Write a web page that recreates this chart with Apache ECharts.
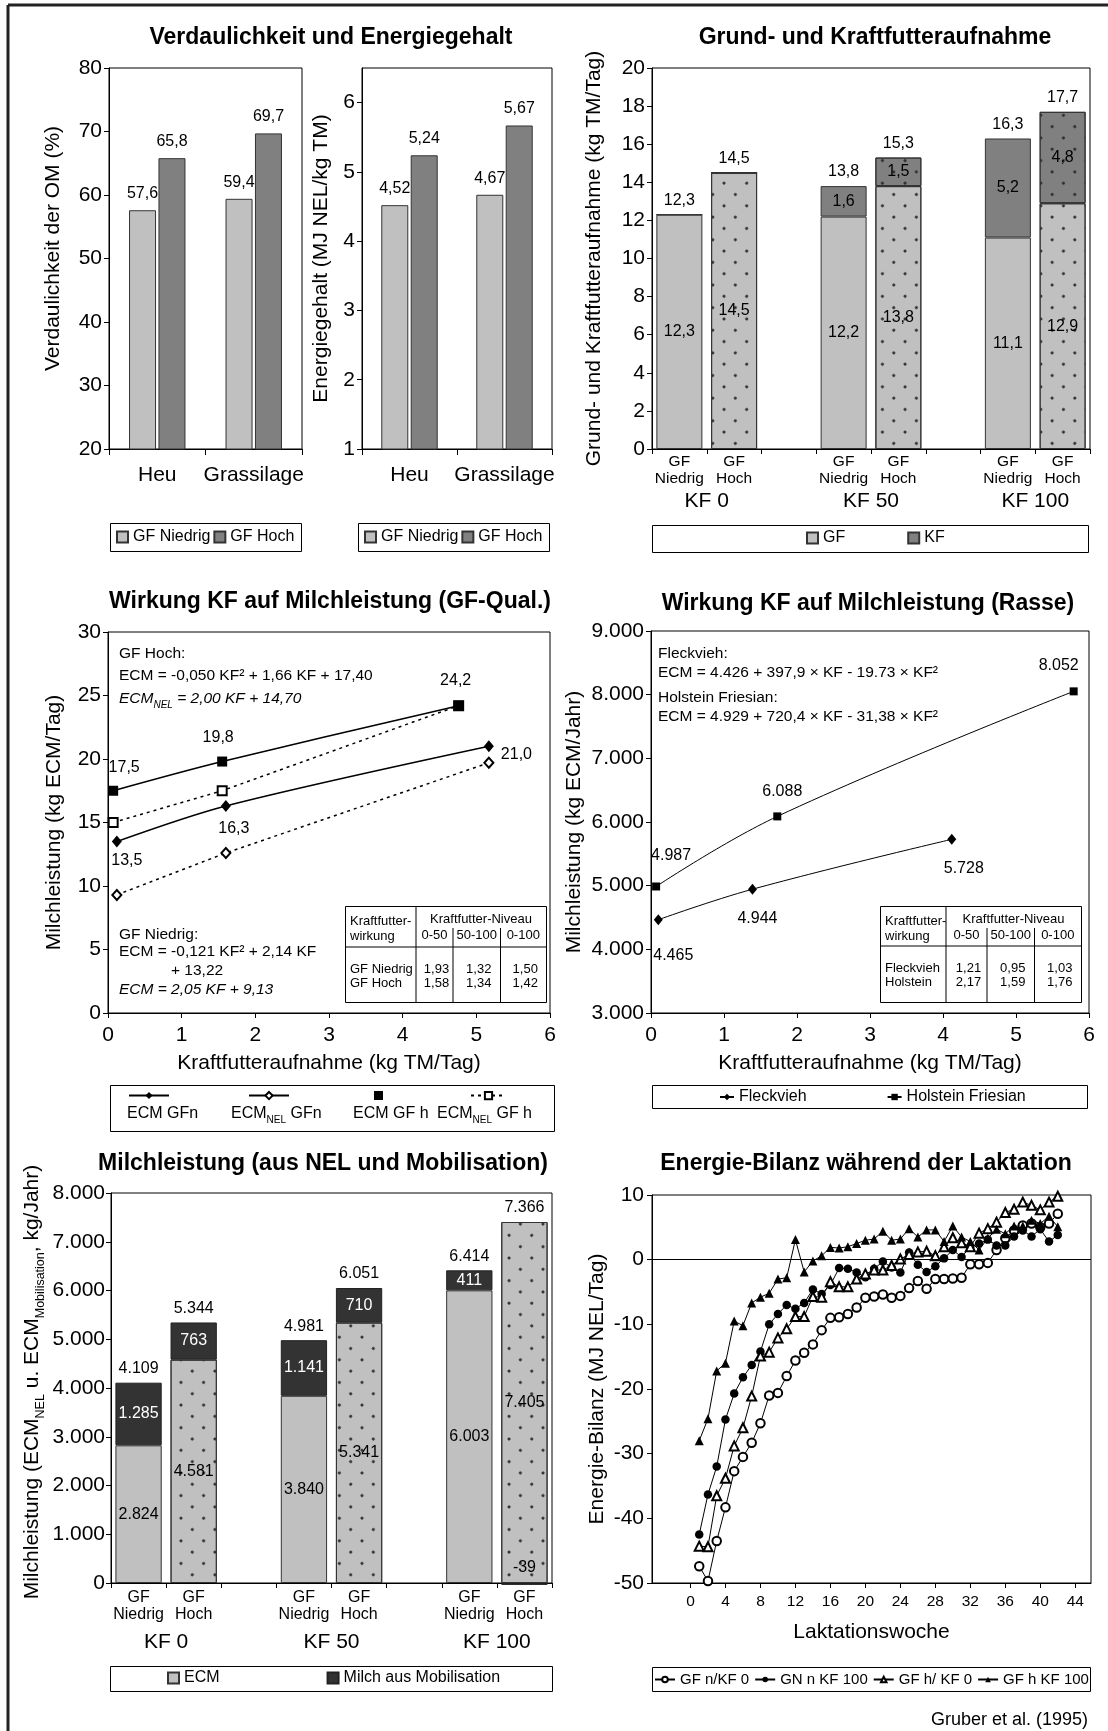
<!DOCTYPE html>
<html><head><meta charset="utf-8">
<script src="https://cdn.jsdelivr.net/npm/echarts@6/dist/echarts.min.js"></script>
<style>html,body{margin:0;padding:0;background:#fff}#c{width:1108px;height:1731px}</style>
</head><body><div id="c"></div>
<script>
// ---------------- DATA ----------------
const feedCats = ['Heu', 'Grassilage'];
const verdNiedrig = [57.6, 59.4];
const verdHoch = [65.8, 69.7];
const energieNiedrig = [4.52, 4.67];
const energieHoch = [5.24, 5.67];
const energieTicks = [1, 2, 3, 4, 5, 6];

const slotCats = ['GF\nNiedrig', 'GF\nHoch', '', 'GF\nNiedrig', 'GF\nHoch', '', 'GF\nNiedrig', 'GF\nHoch'];
const groupNames = ['KF 0', 'KF 50', 'KF 100'];
const gfAufnahme = [12.3, 14.5, '-', 12.2, 13.8, '-', 11.1, 12.9];
const kfAufnahme = [0, 0, '-', 1.6, 1.5, '-', 5.2, 4.8];
const gesAufnahme = [12.3, 14.5, '-', 13.8, 15.3, '-', 16.3, 17.7];

const kfGFn = [0.12, 1.6, 5.17];
const ecmGFn = [13.5, 16.3, 21.0];
const ecmNelGFn = [9.3, 12.6, 19.7];
const kfGFh = [0.07, 1.55, 4.76];
const ecmGFh = [17.5, 19.8, 24.2];
const ecmNelGFh = [15.0, 17.5, 24.2];
const tableCols = ['0-50', '50-100', '0-100'];
const tableGFRows = ['GF Niedrig', 'GF Hoch'];
const tableGFVals = [[1.93, 1.32, 1.50], [1.58, 1.34, 1.42]];

const kfFleck = [0.1, 1.39, 4.12];
const ecmFleck = [4465, 4944, 5728];
const kfHol = [0.07, 1.73, 5.79];
const ecmHol = [4987, 6088, 8052];
const tableRasseRows = ['Fleckvieh', 'Holstein'];
const tableRasseVals = [[1.21, 0.95, 1.03], [2.17, 1.59, 1.76]];

const ecmNel = [2824, 4581, '-', 3840, 5341, '-', 6003, 7405];
const ecmMobil = [1285, 763, '-', 1141, 710, '-', 411, -39];
const milchGesamt = [4109, 5344, '-', 4981, 6051, '-', 6414, 7366];

const weeks = [1,2,3,4,5,6,7,8,9,10,11,12,13,14,15,16,17,18,19,20,21,22,23,24,25,26,27,28,29,30,31,32,33,34,35,36,37,38,39,40,41,42];
const weekTicks = [0, 4, 8, 12, 16, 20, 24, 28, 32, 36, 40, 44];
const ebGFnKF0 = [-47.4,-49.7,-43.5,-38.3,-32.7,-30.5,-28.3,-25.3,-21.0,-20.6,-18.0,-15.6,-14.4,-13.1,-10.9,-9.0,-8.9,-8.4,-7.4,-5.9,-5.7,-5.4,-5.9,-5.6,-4.4,-3.3,-4.5,-3.0,-3.0,-2.9,-2.8,-0.7,-0.7,-0.5,1.5,3.3,4.5,5.3,5.6,5.0,5.6,7.1];
const ebGNnKF100 = [-42.5,-36.3,-32.0,-24.7,-20.7,-18.2,-16.3,-14.2,-10.0,-8.4,-7.0,-7.6,-6.7,-4.6,-5.3,-3.9,-1.3,-1.4,-2.0,-2.7,-1.4,-0.3,-1.2,-2.0,1.1,-0.8,-1.9,-1.0,0.2,1.5,0.4,2.0,2.5,3.1,2.2,2.2,3.6,4.5,3.6,4.7,2.8,3.8];
const ebGFhKF0 = [-44.3,-44.4,-36.5,-33.8,-28.8,-26.0,-21.1,-14.9,-14.3,-12.1,-10.7,-8.8,-8.8,-5.7,-5.8,-3.4,-4.2,-4.2,-3.0,-2.2,-1.6,-1.6,-0.9,0.1,0.8,1.2,1.3,0.6,2.0,3.4,2.6,2.0,4.1,4.8,5.8,7.3,7.8,8.9,8.4,7.7,8.9,9.8];
const ebGFhKF100 = [-28.0,-24.6,-17.2,-16.0,-9.5,-10.2,-6.7,-5.8,-5.2,-3.0,-2.8,3.1,-1.9,-0.2,0.6,1.9,1.8,2.0,2.5,3.0,3.2,4.4,3.0,3.2,4.8,3.5,4.6,4.6,2.8,5.2,3.5,2.8,1.5,3.3,4.7,4.0,5.2,5.2,6.1,5.6,6.7,5.1];

// ---------------- HELPERS ----------------
const FONT = '"Liberation Sans", Arial, Helvetica, sans-serif';
const de1 = v => v.toFixed(1).replace('.', ',');
const de2 = v => v.toFixed(2).replace('.', ',');
const deK = v => (v < 0 ? '-' : '') + Math.round(Math.abs(v)).toString().replace(/\B(?=(\d{3})+(?!\d))/g, '.');
function merge(a, b) {
  const o = Object.assign({}, a);
  for (const k in b) {
    const bv = b[k], av = a[k];
    if (bv && typeof bv === 'object' && !Array.isArray(bv) && av && typeof av === 'object' && !Array.isArray(av)) o[k] = merge(av, bv);
    else o[k] = bv;
  }
  return o;
}
const isHoch = i => slotCats[i].indexOf('Hoch') >= 0;
const groupCenters = slotCats.map((c, i) => c.indexOf('Niedrig') >= 0 ? i + 1 : null).filter(v => v !== null);
const DOTS = { symbol: 'circle', symbolSize: 1, color: '#2a2a2a', dashArrayX: [2.2, 12.6], dashArrayY: [2.2, 12.6], rotation: Math.PI / 4 };
const LIGHT = '#c0c0c0', MID = '#808080', DARK = '#333333';

const baseAxis = {
  nameMoveOverlap: false,
  axisLine: { show: true, onZero: false, lineStyle: { color: '#000', width: 1 } },
  axisTick: { show: true, length: 5, inside: false, lineStyle: { color: '#000', width: 1 } },
  splitLine: { show: false },
  axisLabel: { fontFamily: FONT, fontSize: 21, color: '#000' },
  nameTextStyle: { fontFamily: FONT, fontSize: 21, color: '#000' }
};
const ax = o => merge(baseAxis, o);
const lblStyle = { fontFamily: FONT, fontSize: 16, color: '#000' };
const subRich = {
  m: { fontFamily: FONT, fontSize: 16, lineHeight: 16, verticalAlign: 'top', color: '#000' },
  s: { fontFamily: FONT, fontSize: 10, lineHeight: 10, verticalAlign: 'top', padding: [9, 0, 0, 0], color: '#000' }
};
const nelFmt = name => name.indexOf('ECM_NEL') === 0 ? '{m|ECM}{s|NEL}{m|' + name.slice(7) + '}' : '{m|' + name + '}';

// ---------------- GRIDS ----------------
const grids = [
  { left: 109, top: 68, width: 193, height: 381 },
  { left: 362, top: 68, width: 190, height: 381 },
  { left: 652, top: 68, width: 438, height: 381 },
  { left: 108, top: 632, width: 442, height: 381 },
  { left: 651, top: 631, width: 438, height: 382 },
  { left: 111, top: 1193, width: 441, height: 390 },
  { left: 652, top: 1195, width: 439, height: 388 }
].map(g => Object.assign(g, { show: true, borderColor: '#000', borderWidth: 1, backgroundColor: 'transparent', containLabel: false, outerBoundsMode: 'none' }));

const xAxes = [
  ax({ type: 'category', gridIndex: 0, position: 'bottom', data: feedCats, axisLabel: { margin: 16, interval: 0 }, axisTick: { length: 6 } }),
  ax({ type: 'category', gridIndex: 1, position: 'bottom', data: feedCats, axisLabel: { margin: 16, interval: 0 }, axisTick: { length: 6 } }),
  ax({ type: 'category', gridIndex: 2, position: 'bottom', data: slotCats, axisLabel: { fontSize: 15.5, lineHeight: 17, margin: 4, interval: 0 }, axisTick: { interval: 0 } }),
  ax({ type: 'value', gridIndex: 2, position: 'bottom', offset: 0, min: 0, max: slotCats.length, axisLine: { show: false }, axisTick: { show: false },
       axisLabel: { customValues: groupCenters, margin: 42, formatter: v => groupNames[groupCenters.indexOf(v)] || '' } }),
  ax({ type: 'value', gridIndex: 3, position: 'bottom', min: 0, max: 6, interval: 1, name: 'Kraftfutteraufnahme (kg TM/Tag)', nameLocation: 'middle', nameGap: 40, axisLabel: { margin: 12 } }),
  ax({ type: 'value', gridIndex: 4, position: 'bottom', min: 0, max: 6, interval: 1, name: 'Kraftfutteraufnahme (kg TM/Tag)', nameLocation: 'middle', nameGap: 40, axisLabel: { margin: 12 } }),
  ax({ type: 'category', gridIndex: 5, position: 'bottom', data: slotCats, axisLabel: { fontSize: 16, lineHeight: 17, margin: 6, interval: 0 }, axisTick: { interval: 0 } }),
  ax({ type: 'value', gridIndex: 5, position: 'bottom', offset: 0, min: 0, max: slotCats.length, axisLine: { show: false }, axisTick: { show: false },
       axisLabel: { customValues: groupCenters, margin: 49, formatter: v => groupNames[groupCenters.indexOf(v)] || '' } }),
  ax({ type: 'value', gridIndex: 6, position: 'bottom', min: -4.4, max: 45.8, name: 'Laktationswoche', nameLocation: 'middle', nameGap: 39,
       axisLabel: { customValues: weekTicks, fontSize: 15.5, margin: 11 }, axisTick: { customValues: weekTicks } })
];

const yAxes = [
  ax({ type: 'value', gridIndex: 0, min: 20, max: 80, interval: 10, name: 'Verdaulichkeit der OM (%)', nameLocation: 'middle', nameGap: 45, nameTextStyle: { padding: [0, 0, 0, 20] }, axisLabel: { margin: 7 } }),
  ax({ type: 'value', gridIndex: 1, min: 1, max: 6.5, name: 'Energiegehalt (MJ NEL/kg TM)', nameLocation: 'middle', nameGap: 30, axisLabel: { margin: 7, customValues: energieTicks }, axisTick: { customValues: energieTicks } }),
  ax({ type: 'value', gridIndex: 2, min: 0, max: 20, interval: 2, name: 'Grund- und Kraftfutteraufnahme (kg TM/Tag)', nameLocation: 'middle', nameGap: 47, axisLabel: { margin: 7 } }),
  ax({ type: 'value', gridIndex: 3, min: 0, max: 30, interval: 5, name: 'Milchleistung (kg ECM/Tag)', nameLocation: 'middle', nameGap: 43, axisLabel: { margin: 7 } }),
  ax({ type: 'value', gridIndex: 4, min: 3000, max: 9000, interval: 1000, name: 'Milchleistung (kg ECM/Jahr)', nameLocation: 'middle', nameGap: 66, axisLabel: { margin: 7, formatter: deK } }),
  ax({ type: 'value', gridIndex: 5, min: 0, max: 8000, interval: 1000,
       name: '{n|Milchleistung (ECM}{s|NEL}{n| u. ECM}{s|Mobilisation}{n|, kg/Jahr)}', nameLocation: 'middle', nameGap: 68,
       nameTextStyle: { padding: [0, 0, 0, 12], rich: {
         n: { fontFamily: FONT, fontSize: 21, lineHeight: 21, verticalAlign: 'top', color: '#000' },
         s: { fontFamily: FONT, fontSize: 12.5, lineHeight: 12, verticalAlign: 'top', padding: [12, 0, 0, 0], color: '#000' } } },
       axisLabel: { margin: 6, formatter: deK } }),
  ax({ type: 'value', gridIndex: 6, min: -50, max: 10, interval: 10, name: 'Energie-Bilanz (MJ NEL/Tag)', nameLocation: 'middle', nameGap: 44, axisLabel: { margin: 8 } })
];

// ---------------- SERIES ----------------
const series = [];
// A / B
[[0, verdNiedrig, verdHoch, de1], [1, energieNiedrig, energieHoch, de2]].forEach(([gi, lo, hi, f]) => {
  [['GF Niedrig', lo, LIGHT], ['GF Hoch', hi, MID]].forEach(([nm, arr, col]) => {
    series.push({ type: 'bar', name: nm, xAxisIndex: gi, yAxisIndex: gi, data: arr, barWidth: 27, barGap: '9%',
      itemStyle: { color: col, borderColor: '#333', borderWidth: 1 },
      label: Object.assign({ show: true, position: 'top', distance: 8.5, formatter: p => f(p.value) }, lblStyle) });
  });
});
// C
const withDots = (arr, dotted) => arr.map((v, i) => (dotted && isHoch(i) && typeof v === 'number') ? { value: v, itemStyle: { decal: DOTS } } : v);
series.push({ type: 'bar', name: 'GF', xAxisIndex: 2, yAxisIndex: 2, stack: 'aufn', barWidth: '84%', data: withDots(gfAufnahme, true),
  itemStyle: { color: LIGHT, borderColor: '#333', borderWidth: 1 },
  label: Object.assign({ show: true, position: 'inside', formatter: p => (typeof p.value === 'number' && p.value) ? de1(p.value) : '' }, lblStyle) });
series.push({ type: 'bar', name: 'KF', xAxisIndex: 2, yAxisIndex: 2, stack: 'aufn', barWidth: '84%', data: withDots(kfAufnahme, true),
  itemStyle: { color: MID, borderColor: '#333', borderWidth: 1 },
  label: Object.assign({ show: true, position: 'inside', formatter: p => (typeof p.value === 'number' && p.value) ? de1(p.value) : '' }, lblStyle) });
series.push({ type: 'scatter', name: 'sumC', xAxisIndex: 2, yAxisIndex: 2, silent: true, symbol: 'rect', symbolSize: 0.1,
  itemStyle: { color: '#000', opacity: 1 },
  data: gesAufnahme.map((v, i) => [i, v]).filter(d => typeof d[1] === 'number'),
  label: Object.assign({ show: true, position: 'top', distance: 6, opacity: 1, formatter: p => de1(p.value[1]) }, lblStyle), z: 5 });

// D
const gfnLbl = [{ position: 'bottom', distance: 5, offset: [10, 0] }, { position: 'bottom', distance: 9, offset: [8, 0] }, { position: 'right', distance: 7, offset: [0, 8] }];
const gfhLbl = [{ position: 'top', distance: 10, offset: [11, 0] }, { position: 'top', distance: 11, offset: [-4, 0] }, { position: 'top', distance: 12, offset: [-3, 0] }];
series.push({ type: 'line', name: 'ECM_NEL GFn', xAxisIndex: 4, yAxisIndex: 3, data: kfGFn.map((x, i) => [x, ecmNelGFn[i]]),
  symbol: 'emptyDiamond', symbolSize: [9, 10], lineStyle: { color: '#000', width: 1.5, type: [3, 4] }, itemStyle: { color: '#000', borderWidth: 1 }, z: 3 });
series.push({ type: 'line', name: 'ECM_NEL GF h', xAxisIndex: 4, yAxisIndex: 3, data: kfGFh.map((x, i) => [x, ecmNelGFh[i]]),
  symbol: 'emptyRect', symbolSize: 9, lineStyle: { color: '#000', width: 1.5, type: [3, 4] }, itemStyle: { color: '#000', borderWidth: 1 }, z: 3 });
series.push({ type: 'line', name: 'ECM GFn', xAxisIndex: 4, yAxisIndex: 3, smooth: 0.3,
  data: kfGFn.map((x, i) => ({ value: [x, ecmGFn[i]], label: gfnLbl[i] })),
  symbol: 'diamond', symbolSize: [10, 12], lineStyle: { color: '#000', width: 1.5 }, itemStyle: { color: '#000' },
  label: Object.assign({ show: true, formatter: p => de1(p.value[1]) }, lblStyle), z: 4 });
series.push({ type: 'line', name: 'ECM GF h', xAxisIndex: 4, yAxisIndex: 3, smooth: 0.3,
  data: kfGFh.map((x, i) => ({ value: [x, ecmGFh[i]], label: gfhLbl[i] })),
  symbol: 'rect', symbolSize: 10, lineStyle: { color: '#000', width: 1.5 }, itemStyle: { color: '#000' },
  label: Object.assign({ show: true, formatter: p => de1(p.value[1]) }, lblStyle), z: 4 });

// E
const fleckLbl = [{ position: 'bottom', distance: 22, offset: [15, 0] }, { position: 'bottom', distance: 16, offset: [5, 0] }, { position: 'bottom', distance: 16, offset: [12, 0] }];
const holLbl = [{ position: 'top', distance: 19, offset: [15, 0] }, { position: 'top', distance: 13, offset: [5, 0] }, { position: 'top', distance: 14, offset: [-15, 0] }];
series.push({ type: 'line', name: 'Fleckvieh', xAxisIndex: 5, yAxisIndex: 4, smooth: 0.4,
  data: kfFleck.map((x, i) => ({ value: [x, ecmFleck[i]], label: fleckLbl[i] })),
  symbol: 'diamond', symbolSize: [9, 11], lineStyle: { color: '#000', width: 1 }, itemStyle: { color: '#000' },
  label: Object.assign({ show: true, formatter: p => deK(p.value[1]) }, lblStyle) });
series.push({ type: 'line', name: 'Holstein Friesian', xAxisIndex: 5, yAxisIndex: 4, smooth: 0.4,
  data: kfHol.map((x, i) => ({ value: [x, ecmHol[i]], label: holLbl[i] })),
  symbol: 'rect', symbolSize: 8, lineStyle: { color: '#000', width: 1 }, itemStyle: { color: '#000' },
  label: Object.assign({ show: true, formatter: p => deK(p.value[1]) }, lblStyle) });

// F
series.push({ type: 'bar', name: 'ECM', xAxisIndex: 6, yAxisIndex: 5, stack: 'milch', barWidth: '84%', data: withDots(ecmNel, true),
  itemStyle: { color: LIGHT, borderColor: '#333', borderWidth: 1 },
  label: Object.assign({ show: true, position: 'inside', formatter: p => typeof p.value === 'number' ? deK(p.value) : '' }, lblStyle) });
series.push({ type: 'bar', name: 'Milch aus Mobilisation', xAxisIndex: 6, yAxisIndex: 5, stack: 'milch', barWidth: '84%', clip: false,
  data: ecmMobil.map(v => (typeof v === 'number' && v < 0) ? { value: v, label: { position: 'top', distance: 7, color: '#000' } } : v),
  itemStyle: { color: DARK, borderColor: '#222', borderWidth: 1 },
  label: Object.assign({}, lblStyle, { show: true, position: 'inside', color: '#fff', formatter: p => typeof p.value === 'number' ? deK(p.value) : '' }) });
series.push({ type: 'scatter', name: 'sumF', xAxisIndex: 6, yAxisIndex: 5, silent: true, symbol: 'rect', symbolSize: 0.1,
  itemStyle: { color: '#000', opacity: 1 },
  data: milchGesamt.map((t, i) => typeof t === 'number' ? { value: [i, ecmNel[i] + Math.max(ecmMobil[i], 0)], total: t } : null).filter(d => d),
  label: Object.assign({ show: true, position: 'top', distance: 6, opacity: 1, formatter: p => deK(p.data.total) }, lblStyle), z: 5 });

// G
[['GF n/KF 0', ebGFnKF0, 'emptyCircle', 8.5], ['GN n KF 100', ebGNnKF100, 'circle', 8.5], ['GF h/ KF 0', ebGFhKF0, 'emptyTriangle', 9], ['GF h KF 100', ebGFhKF100, 'triangle', 9]]
  .forEach(([nm, arr, sym, sz], k) => {
    const s = { type: 'line', name: nm, xAxisIndex: 8, yAxisIndex: 6, data: weeks.map((w, i) => [w, arr[i]]),
      symbol: sym, symbolSize: sz, lineStyle: { color: '#000', width: 1 }, itemStyle: { color: '#000', borderWidth: 1 } };
    if (k === 0) s.markLine = { silent: true, symbol: 'none', label: { show: false }, lineStyle: { color: '#000', width: 1, type: 'solid' }, data: [{ yAxis: 0 }] };
    series.push(s);
  });

// ---------------- LEGENDS ----------------
const legBase = { padding: 0, selectedMode: false, textStyle: { fontFamily: FONT, fontSize: 16, color: '#000' } };
const leg = o => merge(legBase, o);
const legends = [
  leg({ data: ['GF Niedrig', 'GF Hoch'], left: 116, top: 529, icon: 'rect', itemWidth: 11, itemHeight: 11, textGap: 7, itemGap: 3 }),
  leg({ data: ['GF Niedrig', 'GF Hoch'], left: 364, top: 529, icon: 'rect', itemWidth: 11, itemHeight: 11, textGap: 7, itemGap: 3 }),
  leg({ data: ['GF', 'KF'], left: 806, top: 530, icon: 'rect', itemWidth: 11, itemHeight: 11, textGap: 5, itemGap: 62 }),
  leg({ data: ['ECM GFn'], left: 128, top: 1091, itemWidth: 40, itemHeight: 9, textGap: 0, formatter: () => '', textStyle: { fontSize: 6 } }),
  leg({ data: [{ name: 'ECM_NEL GFn', lineStyle: { type: 'solid' } }], left: 248, top: 1091, itemWidth: 40, itemHeight: 9, textGap: 0, formatter: () => '', textStyle: { fontSize: 6 } }),
  leg({ data: [{ name: 'ECM GF h', icon: 'rect' }], left: 374, top: 1091, itemWidth: 9, itemHeight: 9, textGap: 0, formatter: () => '', textStyle: { fontSize: 6 } }),
  leg({ data: ['ECM_NEL GF h'], left: 470, top: 1091, itemWidth: 35, itemHeight: 9, textGap: 0, formatter: () => '', textStyle: { fontSize: 6 } }),
  leg({ data: ['ECM GFn'], left: 122, top: 1106, icon: 'none', itemWidth: 0, itemHeight: 0, textGap: 0, formatter: nelFmt, textStyle: { rich: subRich } }),
  leg({ data: ['ECM_NEL GFn'], left: 226, top: 1106, icon: 'none', itemWidth: 0, itemHeight: 0, textGap: 0, formatter: nelFmt, textStyle: { rich: subRich } }),
  leg({ data: ['ECM GF h'], left: 348, top: 1106, icon: 'none', itemWidth: 0, itemHeight: 0, textGap: 0, formatter: nelFmt, textStyle: { rich: subRich } }),
  leg({ data: ['ECM_NEL GF h'], left: 432, top: 1106, icon: 'none', itemWidth: 0, itemHeight: 0, textGap: 0, formatter: nelFmt, textStyle: { rich: subRich } }),
  leg({ data: ['Fleckvieh', 'Holstein Friesian'], left: 719, top: 1089, itemWidth: 14, itemHeight: 8, textGap: 6, itemGap: 80 }),
  leg({ data: ['ECM', 'Milch aus Mobilisation'], left: 167, top: 1670, icon: 'rect', itemWidth: 11, itemHeight: 11, textGap: 9, itemGap: 107 }),
  leg({ data: ['GF n/KF 0', 'GN n KF 100', 'GF h/ KF 0', 'GF h KF 100'], left: 654, top: 1672, itemWidth: 20, itemHeight: 7, textGap: 3, itemGap: 5, textStyle: { fontSize: 15 } })
];

// ---------------- GRAPHIC (titles, annotations, tables, boxes) ----------------
const G = [];
const T = (x, y, text, o) => G.push({ type: 'text', x, y, silent: true, z: 10,
  style: Object.assign({ text, fill: '#000', font: '15.5px ' + FONT, align: 'left', verticalAlign: 'middle', textAlign: 'left', textVerticalAlign: 'middle' }, o || {}) });
const L = (x1, y1, x2, y2, w, c) => G.push({ type: 'line', silent: true, z: 10, shape: { x1, y1, x2, y2 }, style: { stroke: c || '#000', lineWidth: w || 1 } });
const R = (x, y, w, h) => G.push({ type: 'rect', silent: true, z: 1, shape: { x, y, width: w, height: h }, style: { fill: 'rgba(0,0,0,0)', stroke: '#000', lineWidth: 1 } });
const TITLE = { font: 'bold 23px ' + FONT, align: 'center', textAlign: 'center' };

// frame
L(8, 5, 1108, 5, 3, '#222');
L(8, 5, 8, 1731, 3, '#222');
// titles
T(331, 38, 'Verdaulichkeit und Energiegehalt', TITLE);
T(875, 38, 'Grund- und Kraftfutteraufnahme', TITLE);
T(330, 602, 'Wirkung KF auf Milchleistung (GF-Qual.)', TITLE);
T(868, 604, 'Wirkung KF auf Milchleistung (Rasse)', TITLE);
T(323, 1164, 'Milchleistung (aus NEL und Mobilisation)', TITLE);
T(866, 1164, 'Energie-Bilanz während der Laktation', TITLE);
// legend boxes
R(110.5, 523.5, 191, 28); R(358.5, 523.5, 191, 28); R(652.5, 525.5, 436, 27);
R(110.5, 1085.5, 444, 46); R(652.5, 1085.5, 435, 23); R(110.5, 1666.5, 442, 25); R(652.5, 1667.5, 438, 24);

// annotations D
const italRich = {
  m: { fontFamily: FONT, fontSize: 15.5, fontStyle: 'italic', lineHeight: 16, verticalAlign: 'top', fill: '#000' },
  s: { fontFamily: FONT, fontSize: 10, fontStyle: 'italic', lineHeight: 10, verticalAlign: 'top', padding: [9, 0, 0, 0], fill: '#000' }
};
T(119, 654, 'GF Hoch:');
T(119, 676, 'ECM = -0,050 KF² + 1,66 KF + 17,40');
T(119, 699, '{m|ECM}{s|NEL}{m| = 2,00 KF + 14,70}', { rich: italRich });
T(119, 935, 'GF Niedrig:');
T(119, 952, 'ECM = -0,121 KF² + 2,14 KF');
T(171, 971, '+ 13,22');
T(119, 990, 'ECM = 2,05 KF + 9,13', { font: 'italic 15.5px ' + FONT });
// annotations E
T(658, 654, 'Fleckvieh:');
T(658, 673, 'ECM = 4.426 + 397,9 × KF - 19.73 × KF²');
T(658, 698, 'Holstein Friesian:');
T(658, 717, 'ECM = 4.929 + 720,4 × KF - 31,38 × KF²');

// tables
function drawTable(x0, y0, x1, y1, xa, xb, xc, hy, rows, vals) {
  R(x0 + 0.5, y0 + 0.5, x1 - x0, y1 - y0);
  L(xa, y0, xa, y1); L(xb, y0 + 22, xb, y1); L(xc, y0 + 22, xc, y1);
  L(x0, hy, x1, hy);
  const f = '13px ' + FONT, C = { font: f, align: 'center', textAlign: 'center' };
  T(x0 + 5, y0 + 15, 'Kraftfutter-', { font: f });
  T(x0 + 5, y0 + 30, 'wirkung', { font: f });
  T((xa + x1) / 2, y0 + 13, 'Kraftfutter-Niveau', C);
  const cx = [(xa + xb) / 2, (xb + xc) / 2, (xc + x1) / 2];
  tableCols.forEach((c, j) => T(cx[j], y0 + 29, c, C));
  rows.forEach((r, i) => {
    T(x0 + 5, hy + 22 + i * 14, r, { font: f });
    vals[i].forEach((v, j) => T(cx[j] + 2, hy + 22 + i * 14, de2(v), C));
  });
}
drawTable(345, 906, 546, 1002, 416, 453, 500.5, 947, tableGFRows, tableGFVals);
drawTable(880, 906, 1081, 1002, 946, 987, 1034.5, 946, tableRasseRows, tableRasseVals);

T(1088, 1720, 'Gruber et al. (1995)', { font: '18px ' + FONT, align: 'right', textAlign: 'right' });

// ---------------- CHART ----------------
const chart = echarts.init(document.getElementById('c'), null, { renderer: 'canvas', width: 1108, height: 1731 });
chart.setOption({
  animation: false,
  backgroundColor: '#fff',
  textStyle: { fontFamily: FONT },
  grid: grids,
  xAxis: xAxes,
  yAxis: yAxes,
  legend: legends,
  series: series,
  graphic: { elements: G }
});
</script></body></html>
